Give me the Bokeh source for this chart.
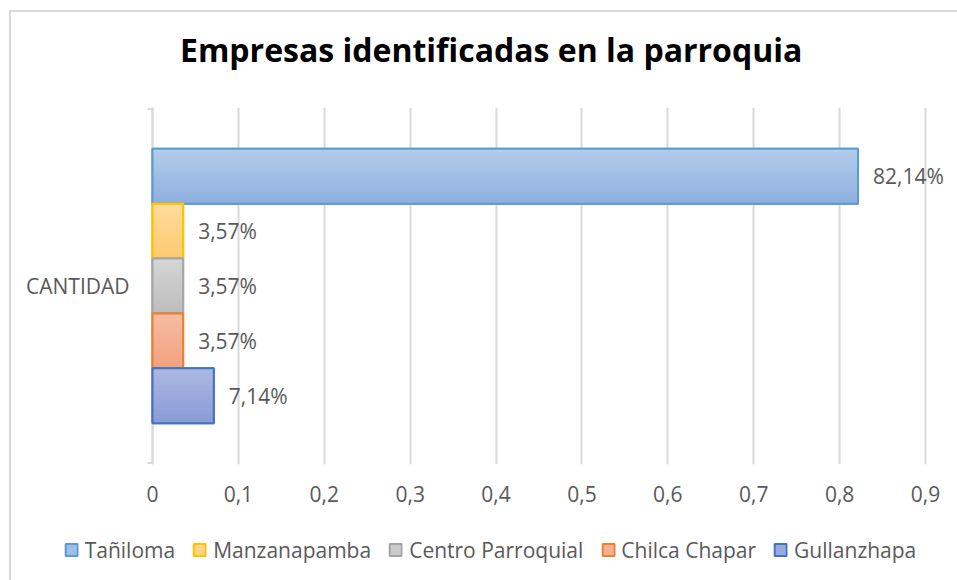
import math
from bokeh.plotting import figure
from bokeh.layouts import column
from bokeh.models import Range1d, FixedTicker, Legend, LegendItem, Span, Div
from bokeh.embed import file_html
from bokeh.resources import INLINE
from bokeh.core.properties import value

# ---------------- data ----------------
title_text = "Empresas identificadas en la parroquia"
category = "CANTIDAD"
series = ["Tañiloma", "Manzanapamba", "Centro Parroquial", "Chilca Chapar", "Gullanzhapa"]
values = [0.8214, 0.0357, 0.0357, 0.0357, 0.0714]
x_ticks = [0, 0.1, 0.2, 0.3, 0.4, 0.5, 0.6, 0.7, 0.8, 0.9]
x_tick_labels = ["0", "0,1", "0,2", "0,3", "0,4", "0,5", "0,6", "0,7", "0,8", "0,9"]

# ---------------- styles ----------------
border_colors = ["#5b9bd5", "#ffc000", "#a5a5a5", "#ed7d31", "#4472c4"]
top_colors = ["#b4cdea", "#ffdc9c", "#d6d6d6", "#f7bda4", "#acb9e2"]
bottom_colors = ["#8fb0de", "#fdca70", "#bdbdbd", "#f2a27f", "#8a9cd5"]
offsets = [0.31, 0.155, 0.0, -0.155, -0.31]
bar_h = 0.155
FONT = "Open Sans"
TXT = "#595959"
GRID = "#d9d9d9"

# pixel layout (inside the bordered area, whose origin is at page x=11, y=12)
FIG_W = 946
TITLE_H, MAIN_H, LEG_H = 60, 447, 61
FRAME_LEFT, FRAME_RIGHT = 12, 946      # frame spans the axis label area too
AXIS0_PX = 141                          # where value 0 sits, from figure left
PX_PER_UNIT = 773 / 0.9
TOP, FRAME_H = 35, 357
Y_PAD = 0.004


def hex2rgb(h):
    h = h.lstrip("#")
    return tuple(int(h[i:i + 2], 16) for i in (0, 2, 4))


def mix(a, b, t):
    ra, rb = hex2rgb(a), hex2rgb(b)
    return "#%02x%02x%02x" % tuple(round(ra[i] + (rb[i] - ra[i]) * t) for i in range(3))


# title
title_div = Div(
    text=('<div style="padding-left:169px;padding-top:16px;font-family:\'Open Sans\';'
          'font-size:32px;font-weight:bold;color:#000000;white-space:nowrap;'
          'line-height:44px;margin:0">%s</div>' % title_text),
    width=FIG_W, height=TITLE_H, margin=0)

x_min = -(AXIS0_PX - FRAME_LEFT) / PX_PER_UNIT
x_max = (FRAME_RIGHT - AXIS0_PX) / PX_PER_UNIT
p = figure(width=FIG_W, height=MAIN_H,
           x_range=Range1d(x_min, x_max), y_range=Range1d(-Y_PAD, 1 + Y_PAD),
           y_axis_location=None,
           output_backend="svg", toolbar_location=None,
           min_border_left=FRAME_LEFT, min_border_right=FIG_W - FRAME_RIGHT,
           min_border_top=TOP, min_border_bottom=MAIN_H - TOP - FRAME_H)
p.outline_line_color = None
p.background_fill_color = "white"
p.border_fill_color = "white"

# grid
p.xgrid.ticker = FixedTicker(ticks=x_ticks)
p.xgrid.grid_line_color = GRID
p.xgrid.grid_line_width = 2
p.ygrid.visible = False

# x axis
xa = p.xaxis[0]
xa.ticker = FixedTicker(ticks=x_ticks)
xa.major_label_overrides = {t: l for t, l in zip(x_ticks, x_tick_labels)}
xa.axis_line_color = None
xa.major_tick_line_color = None
xa.minor_tick_line_color = None
xa.major_label_text_font = FONT
xa.major_label_text_font_size = "21px"
xa.major_label_text_color = TXT
xa.major_label_standoff = 15

# category axis drawn at value 0
p.add_layout(Span(location=0, dimension="height", line_color=GRID,
                  line_width=2, level="underlay"))
p.ray(x=[0, 0], y=[0, 1], length=5, length_units="screen", angle=math.pi,
      line_color=GRID, line_width=2)
p.text(x=[0], y=[0.5], text=[category], x_offset=-23, text_align="right",
       text_baseline="middle", text_font=value(FONT), text_font_size="21px",
       text_color=TXT)

# legend figure (legend only); same side borders so that the frames line up
lf = figure(width=FIG_W, height=LEG_H, x_range=Range1d(0, 1), y_range=Range1d(0, 1),
            x_axis_location=None, y_axis_location=None,
            output_backend="svg", toolbar_location=None,
            min_border_left=FRAME_LEFT, min_border_right=FIG_W - FRAME_RIGHT,
            min_border_top=0, min_border_bottom=0)
lf.grid.visible = False
lf.outline_line_color = None
lf.background_fill_color = "white"
lf.border_fill_color = "white"

items = []
N = 24
for i, (name, v) in enumerate(zip(series, values)):
    yc = 0.5 + offsets[i]
    mid = mix(top_colors[i], bottom_colors[i], 0.5)
    p.hbar(y=[yc], left=0, right=[v], height=bar_h,
           fill_color=mid, line_color=border_colors[i], line_width=2)
    ys = [yc + bar_h / 2 - (k + 0.5) * bar_h / N for k in range(N)]
    cols = [mix(top_colors[i], bottom_colors[i], k / (N - 1)) for k in range(N)]
    p.hbar(y=ys, left=0, right=[v] * N, height=bar_h / N,
           fill_color=cols, line_color=cols, line_width=0.6)
    p.hbar(y=[yc], left=0, right=[v], height=bar_h,
           fill_color=None, line_color=border_colors[i], line_width=2)
    lbl = ("%.2f%%" % (v * 100)).replace(".", ",")
    p.text(x=[v], y=[yc], text=[lbl], x_offset=15, text_baseline="middle",
           text_align="left", text_font=value(FONT), text_font_size="21px",
           text_color=TXT)
    # legend swatch renderer with the same style (degenerate, draws nothing visible)
    sw = lf.hbar(y=[0.02], left=[0], right=[0], height=0,
                 fill_color=mid, line_color=border_colors[i], line_width=2)
    items.append(LegendItem(label=name, renderers=[sw]))

legend = Legend(items=items, orientation="horizontal", location="center",
                label_text_font=FONT, label_text_font_size="21px",
                label_text_color=TXT, border_line_color=None,
                background_fill_alpha=0, glyph_width=15, glyph_height=15,
                spacing=17, label_standoff=6, padding=0, margin=0)
lf.add_layout(legend, "center")

layout = column(title_div, p, lf, spacing=0)
layout.styles = {"margin-left": "9px", "margin-top": "10px",
                 "border-left": "2px solid #d9d9d9", "border-top": "2px solid #d9d9d9"}

open("out.html", "w").write(file_html(layout, INLINE))
